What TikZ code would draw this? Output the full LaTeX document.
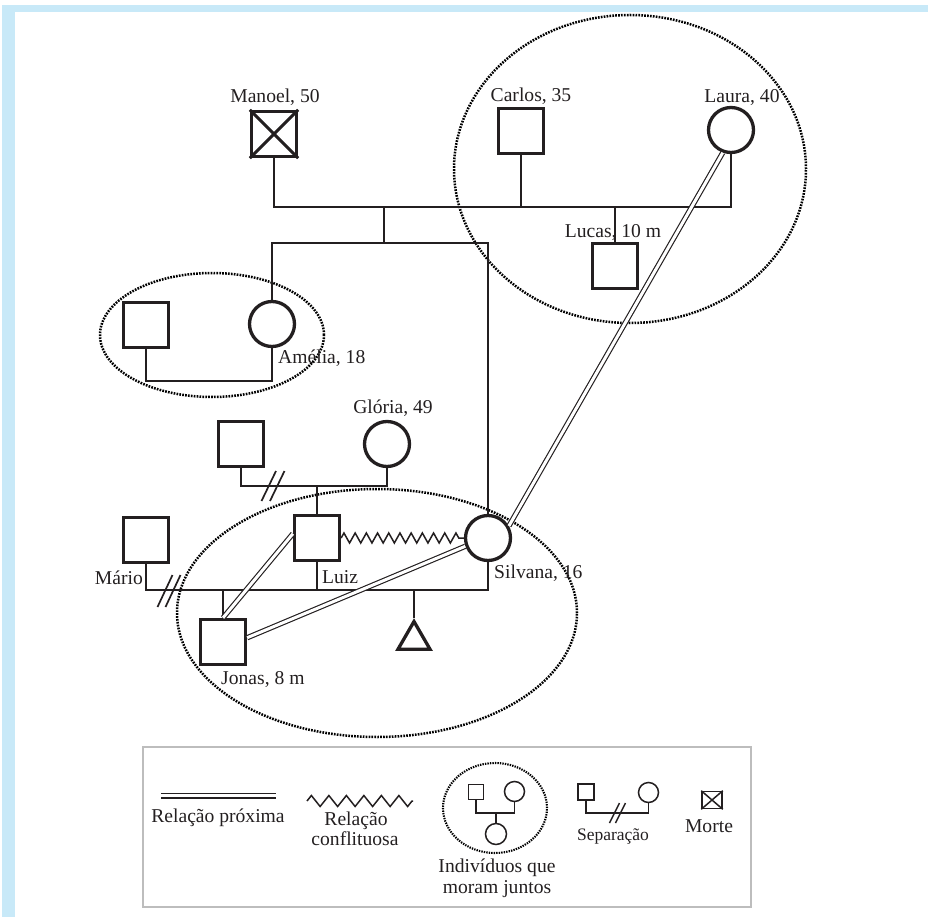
\documentclass[tikz,border=0pt]{standalone}
\usepackage{fontspec}
\setmainfont{Liberation Serif}
\usetikzlibrary{shapes.geometric,decorations.pathmorphing}
\definecolor{ink}{HTML}{231F20}
\definecolor{frame}{HTML}{C8E9F8}
\definecolor{legline}{HTML}{BDBDBD}
\newcommand\mainsz{\fontsize{19.6}{22}\selectfont}
\newcommand\smallsz{\fontsize{17.5}{20}\selectfont}
\tikzset{
 person/.style={draw=ink, line width=3.3pt, minimum size=45pt, inner sep=0pt, fill=white},
 male/.style={person, rectangle},
 female/.style={person, circle},
 lbl/.style={text=ink, inner sep=0pt, font=\mainsz},
 link/.style={draw=ink, line width=1.7pt},
 closerel/.style={draw=ink, line width=1.15pt, double=white, double distance=3pt},
 conflict/.style={draw=ink, line width=1.5pt, decorate, decoration={zigzag, segment length=11.2pt, amplitude=5pt}},
 home/.style={draw=black, line width=2.5pt, dash pattern=on 1.7pt off 1.2pt},
 legperson/.style={draw=ink, line width=1.5pt, inner sep=0pt, fill=white},
 thin/.style={draw=ink, line width=1.5pt},
}
\begin{document}
\begin{tikzpicture}[x=1pt,y=-1pt]
\useasboundingbox (0,0) rectangle (928,917);
% frame
\fill[frame] (2,5) rectangle (928,12.5);
\fill[frame] (2,5) rectangle (14.5,917);

% households
\draw[home] (630,169) ellipse [x radius=176pt, y radius=154pt];
\draw[home] (212,335) ellipse [x radius=112pt, y radius=62pt];
\draw[home] (377,613) ellipse [x radius=200pt, y radius=124pt];

% people
\node[male] (manoel) at (274,134) {};
\draw[line width=3pt, ink] (manoel.north west) -- (manoel.south east);
\draw[line width=3pt, ink] (manoel.north east) -- (manoel.south west);
\node[lbl, anchor=base] (manoelL) at (275,103) {Manoel, 50};

\node[male] (carlos) at (521,131) {};
\node[lbl, anchor=base] (carlosL) at (531,102) {Carlos, 35};

\node[female] (laura) at (731,130) {};
\node[lbl, anchor=base] (lauraL) at (742,103) {Laura, 40};

\node[male] (lucas) at (615,266) {};

\node[male] (ameliaP) at (146,325) {};
\node[female] (amelia) at (272,324) {};

\node[male] (luizpai) at (241,444) {};
\node[female] (gloria) at (387,444) {};
\node[lbl, anchor=base] (gloriaL) at (393,413) {Glória, 49};

\node[male] (mario) at (146,540) {};
\node[male] (luiz) at (317,538) {};
\node[female] (silvana) at (488,538) {};
\node[male] (jonas) at (223,642) {};
\node[draw=ink, line width=3.3pt, regular polygon, regular polygon sides=3, minimum size=37pt, inner sep=0pt, fill=white] (unborn) at (414,640) {};

% coordinates
\coordinate (jt) at (384,207);
\coordinate (jm) at (384,243);
\coordinate (ja) at (210,381);
\coordinate (jg) at (317,486);
\coordinate (jb) at (317,590);
\coordinate (sepA) at (273,486);
\coordinate (sepB) at (169,591);

% family lines
\draw[link] (manoel.south) |- (jt) -| (laura.south);
\draw[link] (carlos.south) -- (carlos.south |- jt);
\draw[link] (lucas.north) -- (lucas.north |- jt);
\draw[link] (jt) -- (jm);
\draw[link] (amelia.north) |- (silvana.north |- jm) -- (silvana.north);
\draw[link] (ameliaP.south) |- (ja) -| (amelia.south);
\draw[link] (luizpai.south) |- (jg) -| (gloria.south);
\draw[link] (jg) -- (luiz.north);
\draw[link] (mario.south) |- (jb) -| (silvana.south);
\draw[link] (luiz.south) -- (jb);
\draw[link] (jonas.north) -- (jonas.north |- jb);
\draw[link] (unborn.north) -- (unborn.north |- jb);

% separations
\draw[link] ([shift={(-11.5,15)}]sepA) -- ([shift={(3,-15)}]sepA);
\draw[link] ([shift={(-3,15)}]sepA) -- ([shift={(11.5,-15)}]sepA);
\draw[link] ([shift={(-11.5,16)}]sepB) -- ([shift={(3.5,-16)}]sepB);
\draw[link] ([shift={(-3.5,16)}]sepB) -- ([shift={(11.5,-16)}]sepB);

% relations
\draw[conflict] (luiz.east) -- (silvana.west);
\draw[closerel] (laura.250) -- (silvana.30);
\draw[closerel] (luiz.170) -- (jonas.north);
\draw[closerel] (silvana.200) -- (jonas.10);

% labels over lines
\node[lbl, anchor=base] (lucasL) at (613,238) {Lucas, 10 m};
\node[lbl, anchor=base west] (ameliaL) at (278,363) {Amélia, 18};
\node[lbl, anchor=base west] (luizL) at (322,583) {Luiz};
\node[lbl, anchor=base west] (silvanaL) at (494,578) {Silvana, 16};
\node[lbl, anchor=base east] (marioL) at (143,584) {Mário};
\node[lbl, anchor=base west] (jonasL) at (221,684) {Jonas, 8 m};

% legend
\node[draw=legline, line width=1.6pt, minimum width=608pt, minimum height=160pt, inner sep=0pt] (legend) at (447,827) {};

\coordinate (l1a) at (161,795.5);
\coordinate (l1b) at (276,795.5);
\draw[draw=ink, line width=1.5pt, double=white, double distance=3pt] (l1a) -- (l1b);
\node[lbl, anchor=base] (l1t) at (218,822) {Relação próxima};

\coordinate (l2a) at (307,801);
\coordinate (l2b) at (413,801);
\draw[draw=ink, line width=1.5pt, decorate, decoration={zigzag, segment length=17.5pt, amplitude=5.5pt}] (l2a) -- (l2b);
\node[lbl, anchor=base] (l2t) at (356,825) {Relação};
\node[lbl, anchor=base] (l2u) at (355,845) {conflituosa};

\draw[draw=black, line width=2.1pt, dash pattern=on 1.4pt off 1.1pt] (495,808) ellipse [x radius=52pt, y radius=45pt];
\node[legperson, rectangle, minimum size=15pt] (lsq) at (476,792) {};
\node[legperson, circle, minimum size=20pt] (lci) at (514.5,791.5) {};
\node[legperson, circle, minimum size=21pt] (lch) at (496,834) {};
\coordinate (lj) at (496,813);
\draw[thin] (lsq.south) |- (lj) -| (lci.south);
\draw[thin] (lj) -- (lch.north);
\node[lbl, anchor=base] (l3t) at (497,872) {Indivíduos que};
\node[lbl, anchor=base] (l3u) at (497,893) {moram juntos};

\node[legperson, rectangle, minimum size=16pt] (ssq) at (586,792) {};
\node[legperson, circle, minimum size=20pt] (sci) at (648.5,792.5) {};
\coordinate (sj) at (618,813);
\draw[thin] (ssq.south) |- (sj) -| (sci.south);
\draw[thin] ([shift={(-8.5,10)}]sj) -- ([shift={(1.5,-10)}]sj);
\draw[thin] ([shift={(-2.5,10)}]sj) -- ([shift={(7.5,-10)}]sj);
\node[text=ink, inner sep=0pt, font=\smallsz, anchor=base] (l4t) at (613,840) {Separação};

\node[legperson, rectangle, minimum width=20pt, minimum height=17pt] (mort) at (712,800) {};
\draw[thin] (mort.north west) -- (mort.south east);
\draw[thin] (mort.north east) -- (mort.south west);
\node[lbl, anchor=base] (l5t) at (709,832) {Morte};
\end{tikzpicture}
\end{document}
